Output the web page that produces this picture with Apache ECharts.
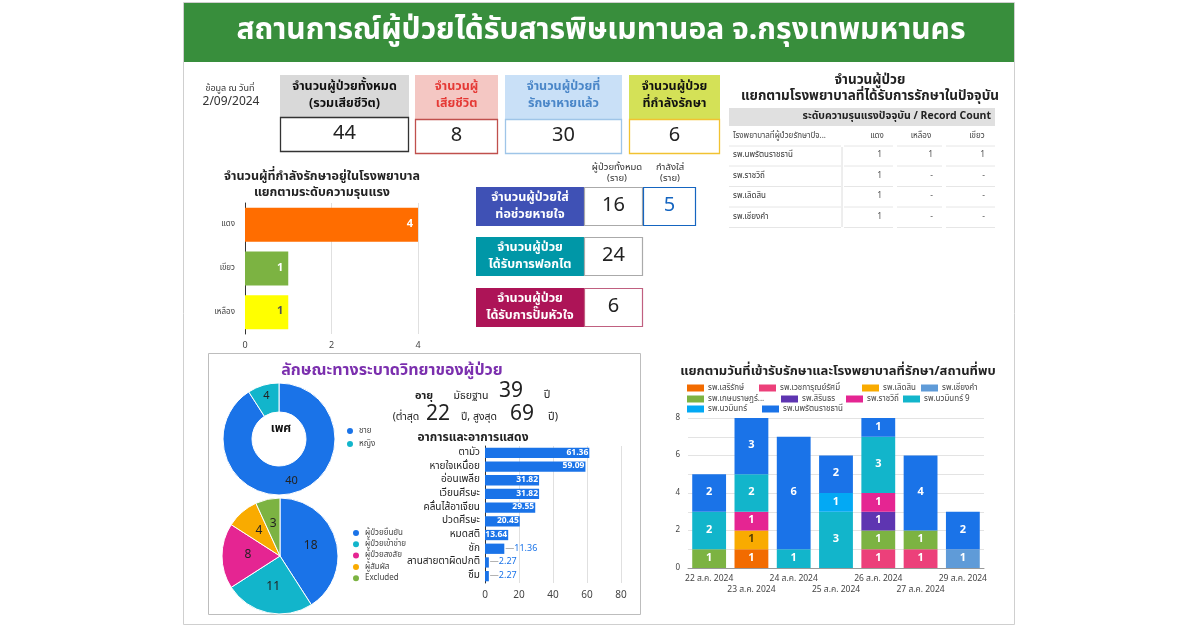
<!DOCTYPE html>
<html><head><meta charset="utf-8">
<script src="https://cdn.jsdelivr.net/npm/echarts/dist/echarts.min.js"></script>
<style>html,body{margin:0;padding:0;background:#fff}#c{width:1200px;height:628px}</style>
</head><body><div id="c"></div>
<script>
const FONT = '"Noto Sans Thai","Noto Sans","DejaVu Sans",sans-serif';

// ---------- data ----------
const dashTitle = 'สถานการณ์ผู้ป่วยได้รับสารพิษเมทานอล จ.กรุงเทพมหานคร';
const asOfLabel = ['ข้อมูล ณ วันที่', '2/09/2024'];
const kpiLabels = ['จำนวนผู้ป่วยทั้งหมด\n(รวมเสียชีวิต)', 'จำนวนผู้\nเสียชีวิต', 'จำนวนผู้ป่วยที่\nรักษาหายแล้ว', 'จำนวนผู้ป่วย\nที่กำลังรักษา'];
const kpiValues = [44, 8, 30, 6];

const severityTitle = 'จำนวนผู้ที่กำลังรักษาอยู่ในโรงพยาบาล\nแยกตามระดับความรุนแรง';
const severityCats = ['แดง', 'เขียว', 'เหลือง'];
const severityValues = [4, 1, 1];

const supportColHeads = ['ผู้ป่วยทั้งหมด\n(ราย)', 'กำลังใส่\n(ราย)'];
const supportLabels = ['จำนวนผู้ป่วยใส่\nท่อช่วยหายใจ', 'จำนวนผู้ป่วย\nได้รับการฟอกไต', 'จำนวนผู้ป่วย\nได้รับการปั๊มหัวใจ'];
const supportTotals = [16, 24, 6];
const ventCurrent = [5];

const tableTitle = 'จำนวนผู้ป่วย\nแยกตามโรงพยาบาลที่ได้รับการรักษาในปัจจุบัน';
const tableBand = 'ระดับความรุนแรงปัจจุบัน / Record Count';
const tableHeads = ['โรงพยาบาลที่ผู้ป่วยรักษาปัจ...', 'แดง', 'เหลือง', 'เขียว'];
const tableHospitals = ['รพ.นพรัตนราชธานี', 'รพ.ราชวิถี', 'รพ.เลิดสิน', 'รพ.เชียงคำ'];
const tableRed = ['1', '1', '1', '1'];
const tableYellow = ['1', '-', '-', '-'];
const tableGreen = ['1', '-', '-', '-'];

const epiTitle = 'ลักษณะทางระบาดวิทยาของผู้ป่วย';
const sexNames = ['ชาย', 'หญิง'];
const sexValues = [40, 4];
const caseTypeNames = ['ผู้ป่วยยืนยัน', 'ผู้ป่วยเข้าข่าย', 'ผู้ป่วยสงสัย', 'ผู้สัมผัส', 'Excluded'];
const caseTypeValues = [18, 11, 8, 4, 3];
const ageValues = [39, 22, 69]; // median, min, max

const symptomTitle = 'อาการและอาการแสดง';
const symptomNames = ['ตามัว', 'หายใจเหนื่อย', 'อ่อนเพลีย', 'เวียนศีรษะ', 'คลื่นไส้อาเจียน', 'ปวดศีรษะ', 'หมดสติ', 'ชัก', 'ลานสายตาผิดปกติ', 'ซึม'];
const symptomValues = [61.36, 59.09, 31.82, 31.82, 29.55, 20.45, 13.64, 11.36, 2.27, 2.27];

const dailyTitle = 'แยกตามวันที่เข้ารับรักษาและโรงพยาบาลที่รักษา/สถานที่พบ';
const dateCats = ['22 ส.ค. 2024', '23 ส.ค. 2024', '24 ส.ค. 2024', '25 ส.ค. 2024', '26 ส.ค. 2024', '27 ส.ค. 2024', '29 ส.ค. 2024'];
const hospitalNames = ['รพ.เสริรักษ์', 'รพ.เวชการุณย์รัศมิ์', 'รพ.เลิดสิน', 'รพ.เชียงคำ', 'รพ.เกษมราษฎร์...', 'รพ.สิรินธร', 'รพ.ราชวิถี', 'รพ.นวมินทร์ 9', 'รพ.นวมินทร์', 'รพ.นพรัตนราชธานี'];
const hSerirak   = [0, 1, 0, 0, 0, 0, 0];
const hWetkarun  = [0, 0, 0, 0, 1, 1, 0];
const hLerdsin   = [0, 1, 0, 0, 0, 0, 0];
const hChiangkam = [0, 0, 0, 0, 0, 0, 1];
const hKasemrad  = [1, 0, 0, 0, 1, 1, 0];
const hSirindhorn= [0, 0, 0, 0, 1, 0, 0];
const hRajavithi = [0, 1, 0, 0, 1, 0, 0];
const hNawamin9  = [2, 2, 1, 3, 3, 0, 0];
const hNawamin   = [0, 0, 0, 1, 0, 0, 0];
const hNopparat  = [2, 3, 6, 2, 1, 4, 2];
const hospitalData = [hSerirak, hWetkarun, hLerdsin, hChiangkam, hKasemrad, hSirindhorn, hRajavithi, hNawamin9, hNawamin, hNopparat];

// ---------- styles ----------
const hospitalColors = ['#f26b00', '#ec407a', '#f9ab00', '#5f9bd8', '#7cb342', '#5e35b1', '#e52592', '#12b5cb', '#03a9f4', '#1a73e8'];
const severityColors = ['#ff6d00', '#7cb342', '#ffff00'];
const legendPos = [[687, 389], [759, 389], [862, 389], [921, 389], [687, 400], [781, 400], [846, 400], [903, 400], [687, 410], [762, 410]];

function T(x, y, text, o) {
  o = o || {};
  return { type: 'text', z: 5, silent: true, style: {
    x: x, y: y, text: String(text), fill: o.fill || '#222',
    font: (o.weight || 'normal') + ' ' + (o.size || 12) + 'px ' + FONT,
    textAlign: o.align || 'center', align: o.align || 'center',
    textVerticalAlign: 'middle', verticalAlign: 'middle',
    lineHeight: o.lh || Math.round((o.size || 12) * 1.2)
  }};
}
function R(x, y, w, h, fill, stroke, lw, z) {
  return { type: 'rect', z: z == null ? 2 : z, silent: true, shape: { x: x, y: y, width: w, height: h },
    style: { fill: fill || 'none', stroke: stroke || null, lineWidth: lw || 1 } };
}
function L(x1, y1, x2, y2, c) {
  return { type: 'line', z: 2, silent: true, shape: { x1: x1, y1: y1, x2: x2, y2: y2 }, style: { stroke: c || '#e0e0e0', lineWidth: 1 } };
}

const G = [];
// card + header
G.push(R(183.5, 2.5, 831, 622, '#fff', '#cfcfcf', 1, 0));
G.push(R(184, 3, 830, 59, '#388e3c', null, 1, 1));
G.push(T(601, 33, dashTitle, { fill: '#fff', size: 30, weight: 'bold' }));
// as-of
G.push(T(230, 89, asOfLabel[0], { size: 9, fill: '#333' }));
G.push(T(231, 103, asOfLabel[1], { size: 12, fill: '#333' }));
// KPI boxes
const kpiBox = [
  { x: 280, w: 129, hf: '#d9d9d9', tc: '#111', bc: '#333', vy: 117 },
  { x: 415, w: 83, hf: '#f4c7c3', tc: '#e53935', bc: '#c0504d', vy: 119 },
  { x: 505, w: 117, hf: '#c9e0f7', tc: '#4a86c8', bc: '#9fc5e8', vy: 119 },
  { x: 629, w: 91, hf: '#d4e157', tc: '#111', bc: '#f1c232', vy: 119 }
];
kpiBox.forEach((b, i) => {
  G.push(R(b.x, 75, b.w, b.vy - 75, b.hf, null, 1));
  G.push(T(b.x + b.w / 2, 96, kpiLabels[i], { size: 12.5, weight: 'bold', fill: b.tc, lh: 17 }));
  G.push(R(b.x + 0.5, b.vy + 0.5, b.w - 1, 34, '#fff', b.bc, 1.3));
  G.push(T(b.x + b.w / 2, b.vy + 18, kpiValues[i], { size: 20, fill: '#222' }));
});
// severity chart title
G.push(T(322, 185, severityTitle, { size: 12.5, weight: 'bold', fill: '#222', lh: 16 }));
// support boxes
G.push(T(617, 174, supportColHeads[0], { size: 9.5, fill: '#333', lh: 11 }));
G.push(T(670, 174, supportColHeads[1], { size: 9.5, fill: '#333', lh: 11 }));
const supColors = ['#3f51b5', '#0097a7', '#ad1457'];
const supY = [187, 237, 288];
const supBorder = ['#aaa', '#aaa', '#c06080'];
supportLabels.forEach((s, i) => {
  G.push(R(476, supY[i], 108, 39, supColors[i], null, 1));
  G.push(T(530, supY[i] + 19.5, s, { size: 12.5, weight: 'bold', fill: '#fff', lh: 17 }));
  G.push(R(584.5, supY[i] + 0.5, 58, 38, '#fff', supBorder[i], 1.2));
  G.push(T(613.5, supY[i] + 19.5, supportTotals[i], { size: 20, fill: '#222' }));
});
G.push(R(643.5, 187.5, 52, 38, '#fff', '#1565c0', 1.2));
G.push(T(669.5, 206.5, ventCurrent[0], { size: 20, fill: '#1565c0' }));
// table
G.push(T(870, 89, tableTitle, { size: 13.5, weight: 'bold', fill: '#222', lh: 16 }));
G.push(R(729, 108, 266, 18, '#e0e0e0', null, 1));
G.push(T(991, 117, tableBand, { size: 10.5, weight: 'bold', fill: '#222', align: 'right' }));
const colSeg = [[729, 841], [844, 893], [897, 942], [946, 995]];
const colVX = [882, 933, 985];
G.push(T(733, 136, tableHeads[0], { size: 8, fill: '#444', align: 'left' }));
G.push(T(877, 136, tableHeads[1], { size: 8, fill: '#444' }));
G.push(T(921, 136, tableHeads[2], { size: 8, fill: '#444' }));
G.push(T(977, 136, tableHeads[3], { size: 8, fill: '#444' }));
colSeg.forEach(s => G.push(L(s[0], 146, s[1], 146, '#e6e6e6')));
tableHospitals.forEach((h, i) => {
  const y = 155.5 + i * 20.5;
  G.push(T(733, y, h, { size: 8, fill: '#333', align: 'left' }));
  [tableRed[i], tableYellow[i], tableGreen[i]].forEach((v, j) => G.push(T(colVX[j], y, v, { size: 8.5, fill: '#555', align: 'right' })));
  colSeg.forEach(s => G.push(L(s[0], y + 10.5, s[1], y + 10.5, '#e6e6e6')));
});
G.push(L(842, 147, 842, 227, '#dcdcdc'));
// epi panel
G.push(R(208.5, 353.5, 432, 261, null, '#bdbdbd', 1, 1));
G.push(T(392, 372, epiTitle, { size: 16, fill: '#7b2fae', weight: 'bold' }));
G.push(T(281, 430, 'เพศ', { size: 12, weight: 'bold', fill: '#111' }));
// age text
G.push(T(424, 397, 'อายุ', { size: 11, weight: 'bold', fill: '#222' }));
G.push(T(471, 397, 'มัธยฐาน', { size: 10.5, fill: '#222' }));
G.push(T(511, 393, ageValues[0], { size: 21, fill: '#222' }));
G.push(T(547, 396, 'ปี', { size: 11, fill: '#222' }));
G.push(T(406, 418, '(ต่ำสุด', { size: 10.5, fill: '#222' }));
G.push(T(438, 416, ageValues[1], { size: 21, fill: '#222' }));
G.push(T(479, 418, 'ปี, สูงสุด', { size: 10.5, fill: '#222' }));
G.push(T(522, 416, ageValues[2], { size: 21, fill: '#222' }));
G.push(T(553, 418, 'ปี)', { size: 11, fill: '#222' }));
G.push(T(473, 439, symptomTitle, { size: 12, weight: 'bold', fill: '#222' }));
// daily title
G.push(T(838, 372, dailyTitle, { size: 13, weight: 'bold', fill: '#222' }));

// ---------- chart ----------
const chart = echarts.init(document.getElementById('c'), null, { renderer: 'canvas' });
const axisTxt = { fontFamily: FONT, color: '#444' };

const dailySeries = hospitalNames.map((n, i) => ({
  name: n, type: 'bar', stack: 'd', xAxisIndex: 2, yAxisIndex: 2, barCategoryGap: '20%',
  itemStyle: { color: hospitalColors[i] },
  label: { show: true, position: 'inside', color: i === 2 ? '#5a4000' : '#fff', fontWeight: 'bold', fontSize: 11, fontFamily: FONT },
  emphasis: { disabled: true },
  data: hospitalData[i].map(v => v === 0 ? '-' : v)
}));

const dailyLegends = hospitalNames.map((n, i) => ({
  data: [n], left: legendPos[i][0], top: legendPos[i][1] - 5, padding: 0, icon: 'rect', itemWidth: 17, itemHeight: 7, itemGap: 0,
  textStyle: { fontSize: 8, color: '#444', fontFamily: FONT, padding: [0, 0, 0, -1] }, selectedMode: false
}));

const option = {
  animation: false,
  textStyle: { fontFamily: FONT },
  graphic: { elements: G },
  legend: [
    { data: sexNames, left: 345, top: 426, padding: 0, orient: 'vertical', icon: 'circle', itemWidth: 8, itemHeight: 8, itemGap: 3,
      textStyle: { fontSize: 8, lineHeight: 10, color: '#444', fontFamily: FONT }, selectedMode: false },
    { data: caseTypeNames, left: 351, top: 528, padding: 0, orient: 'vertical', icon: 'circle', itemWidth: 8, itemHeight: 8, itemGap: 1.3,
      textStyle: { fontSize: 8, lineHeight: 10, color: '#444', fontFamily: FONT }, selectedMode: false }
  ].concat(dailyLegends),
  grid: [
    { left: 245, right: 782, top: 203, bottom: 294, outerBoundsMode: 'none' },
    { left: 485, right: 579, top: 446, bottom: 45, outerBoundsMode: 'none' },
    { left: 688, right: 216, top: 418, bottom: 60, outerBoundsMode: 'none' }
  ],
  xAxis: [
    { gridIndex: 0, type: 'value', min: 0, max: 4, interval: 2, axisLine: { show: false }, axisTick: { show: false },
      axisLabel: Object.assign({ fontSize: 9, margin: 8 }, axisTxt), splitLine: { lineStyle: { color: '#e0e0e0' } } },
    { gridIndex: 1, type: 'value', min: 0, max: 80, interval: 20, axisLine: { show: false }, axisTick: { show: false },
      axisLabel: Object.assign({ fontSize: 10, margin: 8 }, axisTxt), splitLine: { lineStyle: { color: '#e0e0e0' } } },
    { gridIndex: 2, type: 'category', data: dateCats, axisLine: { lineStyle: { color: '#999' } }, axisTick: { show: false },
      axisLabel: Object.assign({ fontSize: 8.5, interval: 0, margin: 6, lineHeight: 11,
        formatter: (v, i) => (i % 2 ? '\n' + v : v) }, axisTxt) }
  ],
  yAxis: [
    { gridIndex: 0, type: 'category', data: severityCats, inverse: true, axisLine: { lineStyle: { color: '#333' } }, axisTick: { show: false },
      axisLabel: Object.assign({ fontSize: 8, margin: 10 }, axisTxt) },
    { gridIndex: 1, type: 'category', data: symptomNames, inverse: true, axisLine: { lineStyle: { color: '#333' } }, axisTick: { show: false },
      axisLabel: { fontSize: 10, margin: 5, color: '#222', fontFamily: FONT, interval: 0, hideOverlap: false } },
    { gridIndex: 2, type: 'value', min: 0, max: 8, interval: 1, axisLine: { show: false }, axisTick: { show: false },
      axisLabel: Object.assign({ fontSize: 8, margin: 8, formatter: v => (v % 2 === 0 ? v : '') }, axisTxt),
      splitLine: { lineStyle: { color: '#e3e3e3' } } }
  ],
  series: [
    { type: 'bar', xAxisIndex: 0, yAxisIndex: 0, barCategoryGap: '22%', emphasis: { disabled: true },
      data: severityValues.map((v, i) => ({ value: v, itemStyle: { color: severityColors[i] },
        label: { show: true, position: 'insideRight', fontWeight: 'bold', fontSize: 11, fontFamily: FONT, color: i === 2 ? '#555' : '#fff' } })) },
    { type: 'bar', xAxisIndex: 1, yAxisIndex: 1, barCategoryGap: '25%', itemStyle: { color: '#1a73e8' }, emphasis: { disabled: true },
      data: symptomValues.map(v => v >= 13 ? { value: v, label: { show: true, position: 'insideRight', distance: 1, color: '#fff', fontWeight: 'bold', fontSize: 8.5, fontFamily: FONT, formatter: '{c}' } }
        : { value: v, label: { show: true, position: 'right', distance: 1, fontSize: 9, fontFamily: FONT,
            formatter: '{l|—}{v|' + v.toFixed(2) + '}', rich: { l: { color: '#999', fontSize: 9 }, v: { color: '#1a73e8', fontSize: 9, fontFamily: FONT } } } }) },
    { type: 'pie', center: [279, 439], radius: [27, 56], startAngle: 90, clockwise: true, emphasis: { disabled: true },
      label: { show: true, position: 'inside', color: '#222', fontSize: 11, fontFamily: FONT, formatter: '{c}' }, labelLine: { show: false },
      itemStyle: { borderColor: '#fff', borderWidth: 1 },
      color: ['#1a73e8', '#12b5cb'],
      data: sexNames.map((n, i) => ({ name: n, value: sexValues[i] })) },
    { type: 'pie', center: [280, 556], radius: [0, 58], startAngle: 90, clockwise: true, emphasis: { disabled: true },
      label: { show: true, position: 'inside', color: '#222', fontSize: 12, fontFamily: FONT, formatter: '{c}' }, labelLine: { show: false },
      itemStyle: { borderColor: '#fff', borderWidth: 1 },
      color: ['#1a73e8', '#12b5cb', '#e52592', '#f9ab00', '#7cb342'],
      data: caseTypeNames.map((n, i) => ({ name: n, value: caseTypeValues[i] })) }
  ].concat(dailySeries)
};
chart.setOption(option);
</script>
</body></html>
